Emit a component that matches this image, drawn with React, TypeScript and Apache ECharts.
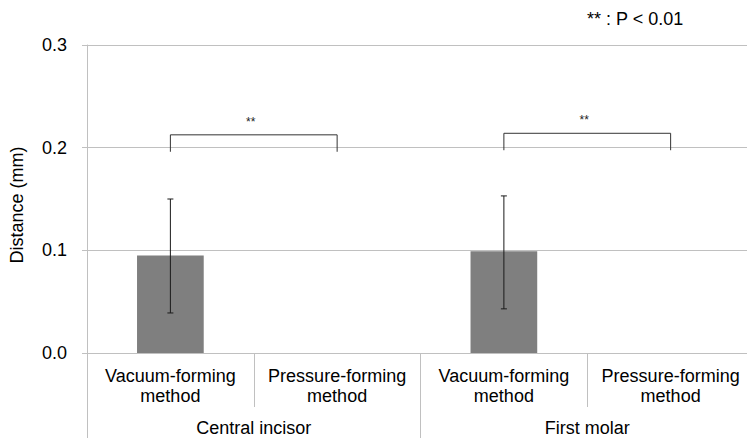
import React, { useEffect, useRef } from "react";
import * as echarts from "echarts";

const categories = [
  "Vacuum-forming\nmethod",
  "Pressure-forming\nmethod",
  "Vacuum-forming\nmethod",
  "Pressure-forming\nmethod",
];
const groups = ["Central incisor", "First molar"];
const means = [0.095, 0, 0.099, 0];
const errLow = [0.039, null, 0.043, null];
const errHigh = [0.15, null, 0.153, null];
// [left category, right category, top value, end value]
const brackets = [
  [0, 1, 0.2125, 0.196],
  [2, 3, 0.214, 0.1975],
];
const yTicks = { min: 0, max: 0.3, interval: 0.1 };
const legendText = "** : P < 0.01";
const starText = "**";

const FONT = 'Arial, "Liberation Sans", sans-serif';
const GRID = "#c0c0c0";

export default function App() {
  const ref = useRef<HTMLDivElement>(null);
  useEffect(() => {
    if (!ref.current) return;
    const chart = echarts.init(ref.current, null, { renderer: "svg" });
    const errData = means
      .map((m, i) => (errLow[i] != null ? [i, errLow[i], errHigh[i]] : null))
      .filter((d) => d != null);
    chart.setOption({
      animation: false,
      textStyle: { fontFamily: FONT },
      grid: {
        left: 87,
        top: 45,
        right: -7,
        bottom: 85,
        containLabel: false,
        outerBoundsMode: "none",
      },
      xAxis: [
        {
          type: "category",
          data: categories,
          position: "bottom",
          axisLine: { show: true, lineStyle: { color: GRID, width: 1 } },
          axisTick: { show: true, length: 54, interval: 0, lineStyle: { color: GRID } },
          axisLabel: {
            interval: 0,
            margin: 13,
            fontSize: 18,
            lineHeight: 20,
            color: "#000",
            fontFamily: FONT,
          },
        },
        {
          type: "category",
          data: groups,
          position: "bottom",
          offset: 0,
          axisLine: { show: false },
          axisTick: { show: true, length: 85, interval: 0, lineStyle: { color: GRID } },
          axisLabel: {
            interval: 0,
            margin: 65,
            fontSize: 18,
            lineHeight: 20,
            color: "#000",
            fontFamily: FONT,
          },
        },
      ],
      yAxis: {
        type: "value",
        min: yTicks.min,
        max: yTicks.max,
        interval: yTicks.interval,
        name: "Distance (mm)",
        nameLocation: "middle",
        nameGap: 61,
        nameTextStyle: { fontSize: 18, color: "#000", fontFamily: FONT, padding: [0, 12, 0, 0] },
        axisLine: { show: true, lineStyle: { color: GRID } },
        axisTick: { show: true, length: 5, lineStyle: { color: GRID } },
        splitLine: { show: true, lineStyle: { color: GRID, width: 1 } },
        axisLabel: {
          margin: 20,
          fontSize: 18,
          color: "#000",
          fontFamily: FONT,
          formatter: (v: number) => v.toFixed(1),
        },
      },
      series: [
        {
          type: "bar",
          xAxisIndex: 0,
          data: means,
          barWidth: "40%",
          itemStyle: { color: "#7f7f7f" },
          z: 2,
        },
        {
          type: "custom",
          xAxisIndex: 0,
          data: errData,
          z: 3,
          renderItem: (params: any, api: any) => {
            const x = api.value(0);
            const lo = api.coord([x, api.value(1)]);
            const hi = api.coord([x, api.value(2)]);
            const cap = 3;
            const style = { stroke: "#1a1a1a", lineWidth: 1 };
            return {
              type: "group",
              children: [
                { type: "line", shape: { x1: lo[0], y1: lo[1], x2: hi[0], y2: hi[1] }, style },
                { type: "line", shape: { x1: hi[0] - cap, y1: hi[1], x2: hi[0] + cap, y2: hi[1] }, style },
                { type: "line", shape: { x1: lo[0] - cap, y1: lo[1], x2: lo[0] + cap, y2: lo[1] }, style },
              ],
            };
          },
        },
        {
          type: "custom",
          xAxisIndex: 0,
          data: brackets,
          z: 4,
          renderItem: (params: any, api: any) => {
            const a = api.coord([api.value(0), api.value(2)]);
            const b = api.coord([api.value(1), api.value(2)]);
            const aEnd = api.coord([api.value(0), api.value(3)]);
            const bEnd = api.coord([api.value(1), api.value(3)]);
            return {
              type: "group",
              children: [
                {
                  type: "polyline",
                  shape: {
                    points: [
                      [aEnd[0], aEnd[1]],
                      [a[0], a[1]],
                      [b[0], b[1]],
                      [bEnd[0], bEnd[1]],
                    ],
                  },
                  style: { stroke: "#333", lineWidth: 1, fill: null },
                },
                {
                  type: "text",
                  x: (a[0] + b[0]) / 2 - 3,
                  y: a[1] - 13,
                  style: {
                    text: starText,
                    fontSize: 12,
                    fontFamily: FONT,
                    fill: "#222",
                    align: "center",
                    verticalAlign: "middle",
                  },
                },
              ],
            };
          },
        },
      ],
      graphic: [
        {
          type: "text",
          left: 587,
          top: 10,
          style: { text: legendText, fontSize: 18, fontFamily: FONT, fill: "#000" },
        },
      ],
    });
    return () => chart.dispose();
  }, []);
  return (
    <div
      ref={ref}
      style={{ position: "fixed", left: 0, top: 0, width: 747, height: 438, background: "#fff" }}
    />
  );
}
